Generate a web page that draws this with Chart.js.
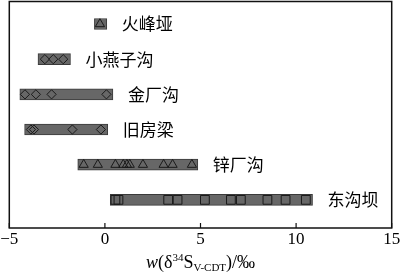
<!DOCTYPE html>
<html>
<head>
<meta charset="utf-8">
<script src="https://cdn.jsdelivr.net/npm/chart.js@4.4.0/dist/chart.umd.min.js"></script>
<style>
  html, body { margin: 0; padding: 0; background: #fff; }
  #wrap { width: 400px; height: 276px; position: relative; }
</style>
</head>
<body>
<div id="wrap"><canvas id="c" width="400" height="276"></canvas></div>
<script>
// ---- data ----
const categories = ['火峰垭', '小燕子沟', '金厂沟', '旧房梁', '锌厂沟', '东沟坝'];
const rangeMin = [-0.55, -3.5, -4.45, -4.2, -1.42, 0.28];
const rangeMax = [0.1, -1.8, 0.42, 0.15, 4.86, 10.86];
const huofengya = [-0.26];
const xiaoyanzigou = [-3.14, -2.70, -2.18];
const jinchanggou = [-4.18, -3.61, -2.79, 0.08];
const jiufangliang = [-3.87, -3.71, -1.70, -0.21];
const xinchanggou = [-1.11, -0.37, 0.55, 0.96, 1.15, 1.30, 1.99, 3.07, 3.54, 4.55];
const donggouba = [0.55, 0.71, 3.31, 3.80, 5.23, 6.59, 7.11, 8.50, 9.45, 10.51];
const xTicks = [-5, 0, 5, 10, 15];

const markerSets = [
  { vals: huofengya, style: 'triangle', r: 5.3 },
  { vals: xiaoyanzigou, style: 'rectRot', r: 4.6 },
  { vals: jinchanggou, style: 'rectRot', r: 4.6 },
  { vals: jiufangliang, style: 'rectRot', r: 4.6 },
  { vals: xinchanggou, style: 'triangle', r: 5.3 },
  { vals: donggouba, style: 'rect', r: 6.2 }
];

const n = categories.length;
const rowOf = i => n - i; // top row first

const datasets = [{
  type: 'bar',
  indexAxis: 'y',
  order: 10,
  data: categories.map((c, i) => ({ x: [rangeMin[i], rangeMax[i]], y: rowOf(i) })),
  backgroundColor: '#676767',
  borderColor: '#3a3a3a',
  borderWidth: 1,
  borderSkipped: false,
  barThickness: 11
}];
markerSets.forEach((m, i) => {
  datasets.push({
    type: 'scatter',
    order: 0,
    data: m.vals.map(v => ({ x: v, y: rowOf(i) })),
    pointStyle: m.style,
    pointRadius: m.r,
    pointBackgroundColor: 'rgba(0,0,0,0)',
    pointBorderColor: '#1a1a1a',
    pointBorderWidth: 1
  });
});

const framePlugin = {
  id: 'frame',
  afterDraw(chart) {
    const { ctx, chartArea: a, scales } = chart;
    ctx.save();
    ctx.strokeStyle = '#111';
    ctx.lineWidth = 1.5;
    ctx.strokeRect(a.left, a.top, a.right - a.left, a.bottom - a.top);
    ctx.lineWidth = 1.2;
    xTicks.forEach(v => {
      const px = scales.x.getPixelForValue(v);
      ctx.beginPath();
      ctx.moveTo(px, a.bottom);
      ctx.lineTo(px, a.bottom - 5);
      ctx.stroke();
    });
    ctx.fillStyle = '#000';
    ctx.font = '17px "Noto Sans CJK SC"';
    ctx.textBaseline = 'middle';
    ctx.textAlign = 'left';
    categories.forEach((c, i) => {
      const px = scales.x.getPixelForValue(rangeMax[i]) + 15;
      const py = scales.y.getPixelForValue(rowOf(i));
      ctx.fillText(c, px, py);
    });
    // axis title with super/subscripts
    const parts = [
      { t: 'w', f: 'italic 18px "Liberation Serif"', dy: 0 },
      { t: '(δ', f: '18px "Liberation Serif"', dy: 0 },
      { t: '34', f: '11px "Liberation Serif"', dy: -7 },
      { t: 'S', f: '18px "Liberation Serif"', dy: 0 },
      { t: 'V-CDT', f: '11px "Liberation Serif"', dy: 3 },
      { t: ')/‰', f: '18px "Liberation Serif"', dy: 0 }
    ];
    ctx.textBaseline = 'alphabetic';
    let total = 0;
    parts.forEach(p => { ctx.font = p.f; p.w = ctx.measureText(p.t).width; total += p.w; });
    let x = (a.left + a.right) / 2 - total / 2;
    const base = 268;
    parts.forEach(p => { ctx.font = p.f; ctx.fillText(p.t, x, base + p.dy); x += p.w; });
    ctx.restore();
  }
};

new Chart(document.getElementById('c'), {
  data: { datasets },
  options: {
    responsive: false,
    animation: false,
    layout: { autoPadding: false, padding: { left: 9.3, right: 8.3, top: 1.5, bottom: 0 } },
    plugins: { legend: { display: false }, tooltip: { enabled: false } },
    scales: {
      x: {
        type: 'linear', min: -5, max: 15, offset: false,
        afterBuildTicks: s => { s.ticks = xTicks.map(v => ({ value: v })); },
        afterFit: s => { s.height = 48; s.paddingLeft = 0; s.paddingRight = 0; },
        grid: { display: false, drawTicks: false },
        border: { display: false },
        ticks: {
          color: '#000',
          padding: 1,
          font: { family: '"Liberation Serif"', size: 17 },
          maxRotation: 0,
          callback: v => (v < 0 ? '\u2212' + Math.abs(v) : String(v))
        }
      },
      y: { type: 'linear', min: 0.2, max: 6.64, offset: false, display: false }
    }
  },
  plugins: [framePlugin]
});
</script>
</body>
</html>
